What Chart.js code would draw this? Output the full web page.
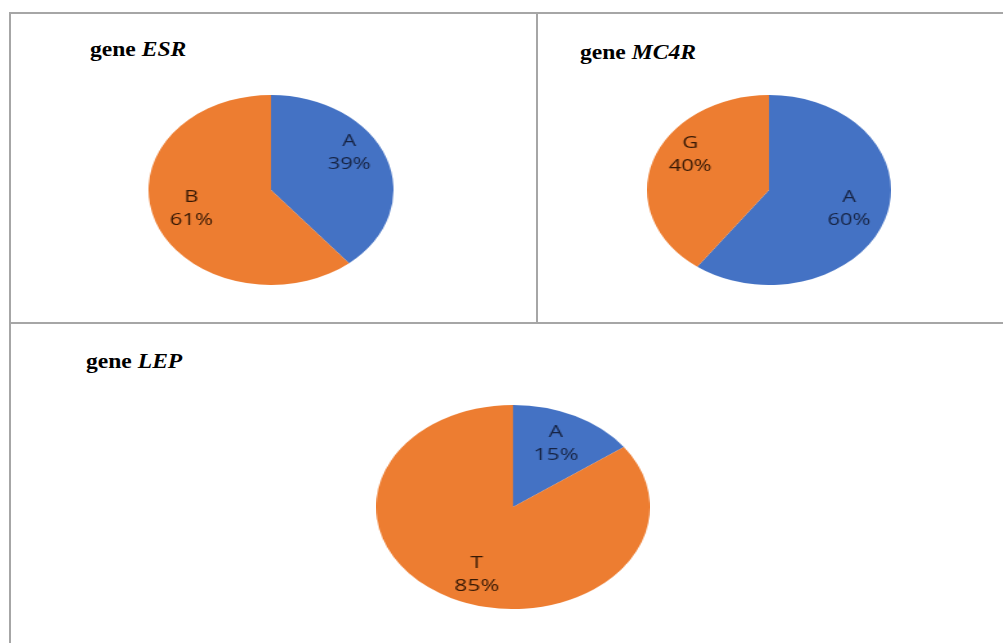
<!DOCTYPE html>
<html>
<head>
<meta charset="utf-8">
<script src="https://cdn.jsdelivr.net/npm/chart.js@4"></script>
<style>
  body { margin: 0; background: #fff; width: 1003px; height: 643px; overflow: hidden; position: relative; }
  .line { position: absolute; background: #a6a6a6; }
  .title { position: absolute; font-family: "Liberation Serif", serif; font-weight: bold; font-size: 20.5px; line-height: 1; color: #000; white-space: nowrap; transform-origin: 0 0; transform: scaleX(1.15); }
  .title i { font-style: italic; }
  .pie { position: absolute; transform-origin: 50% 50%; }
</style>
</head>
<body>
<div class="line" style="left:9px; top:12px; width:994px; height:2px;"></div>
<div class="line" style="left:9px; top:12px; width:2px; height:631px;"></div>
<div class="line" style="left:536px; top:12px; width:2px; height:312px;"></div>
<div class="line" style="left:9px; top:322px; width:994px; height:2px;"></div>

<div class="title" style="left:90px; top:39px;">gene <i>ESR</i></div>
<div class="title" style="left:580px; top:42px;">gene <i>MC4R</i></div>
<div class="title" style="left:86px; top:351px;">gene <i>LEP</i></div>

<div class="pie" id="esr-wrap"><canvas id="esr-chart"></canvas></div>
<div class="pie" id="mc4r-wrap"><canvas id="mc4r-chart"></canvas></div>
<div class="pie" id="lep-wrap"><canvas id="lep-chart"></canvas></div>

<script>
const esrLabels = ['A', 'B']
const esrValues = [39, 61]
const mc4rLabels = ['A', 'G']
const mc4rValues = [60, 40]
const lepLabels = ['A', 'T']
const lepValues = [15, 85]

const sliceColors = ['#4472C4', '#ED7D31']
const labelColors = ['#172444', '#351805']

// draws "A" / "39%" inside each slice
const sliceLabels = {
    id: 'sliceLabels',
    afterDatasetsDraw(chart, args, opts){
        const ctx = chart.ctx
        const meta = chart.getDatasetMeta(0)
        const values = chart.data.datasets[0].data
        const shifts = opts.shifts || []
        ctx.save()
        ctx.font = '500 17px "Open Sans"'
        ctx.textAlign = 'center'
        ctx.textBaseline = 'middle'
        meta.data.forEach((arc, i) => {
            const p = arc.getProps(['x', 'y', 'startAngle', 'endAngle', 'outerRadius'])
            const mid = (p.startAngle + p.endAngle) / 2
            const r = p.outerRadius * 0.69
            const s = shifts[i] || [0, 0]
            const x = p.x + Math.cos(mid) * r + s[0]
            const y = p.y + Math.sin(mid) * r + s[1]
            ctx.fillStyle = labelColors[i]
            ctx.fillText(chart.data.labels[i], x, y - 12)
            ctx.fillText(values[i] + '%', x, y + 11)
        })
        ctx.restore()
    }
}

function displayPie(id, labels, values, box){
    const wrap = document.getElementById(id + '-wrap')
    const size = box.ry * 2
    wrap.style.width = size + 'px'
    wrap.style.height = size + 'px'
    wrap.style.left = (box.cx - box.ry) + 'px'
    wrap.style.top = (box.cy - box.ry) + 'px'
    wrap.style.transform = 'scaleX(' + (box.rx / box.ry) + ')'
    new Chart(document.getElementById(id + '-chart'), {
        type: 'pie',
        data: {
            labels: labels,
            datasets: [{
                data: values,
                backgroundColor: sliceColors,
                borderWidth: 0
            }]
        },
        options: {
            responsive: true,
            maintainAspectRatio: false,
            animation: false,
            layout: { padding: 0 },
            plugins: {
                legend: { display: false },
                tooltip: { enabled: false },
                sliceLabels: { shifts: box.shifts }
            }
        },
        plugins: [sliceLabels]
    })
}

displayPie('esr', esrLabels, esrValues, {cx: 271, cy: 190, rx: 122.5, ry: 95, shifts: [[-1, -15], [0, -3]]})
displayPie('mc4r', mc4rLabels, mc4rValues, {cx: 769, cy: 190, rx: 122, ry: 95, shifts: [[0, -1], [1, -15]]})
displayPie('lep', lepLabels, lepValues, {cx: 513, cy: 507, rx: 137, ry: 102, shifts: [[0, 0], [5, 5]]})
</script>
</body>
</html>
